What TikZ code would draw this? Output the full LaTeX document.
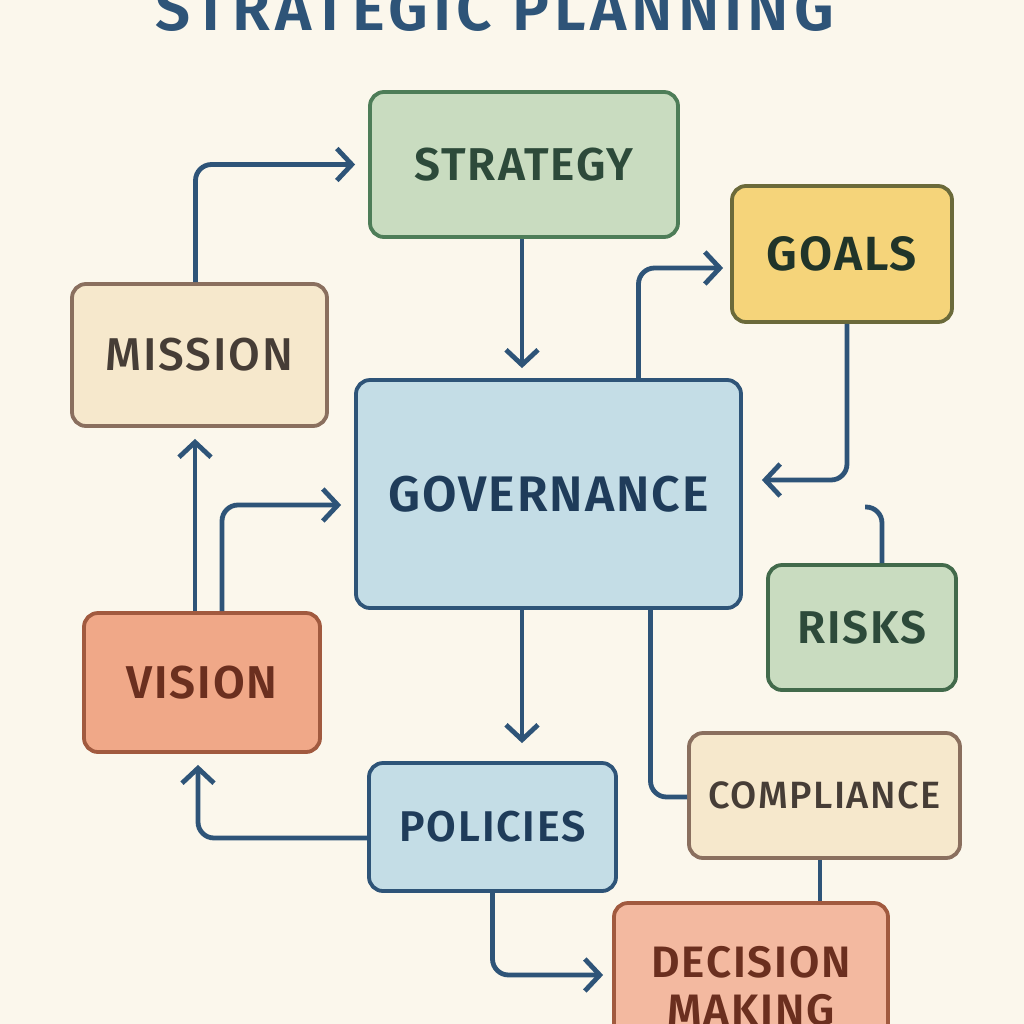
\documentclass[tikz,border=0pt]{standalone}
\usepackage{fontspec}
\setmainfont{Fira Sans}[BoldFont=* SemiBold]
\newfontfamily\mediumfont{Fira Sans Medium}[LetterSpace=4]
\usetikzlibrary{arrows.meta}

\definecolor{paper}{HTML}{FBF7EC}
\definecolor{linkblue}{HTML}{2E5478}
\definecolor{navy}{HTML}{1F3C5A}
\definecolor{greenfill}{HTML}{C9DCC0}
\definecolor{greenline}{HTML}{4E7D58}
\definecolor{greentext}{HTML}{2D4A3A}
\definecolor{goldfill}{HTML}{F5D47A}
\definecolor{goldline}{HTML}{6B6A3A}
\definecolor{creamfill}{HTML}{F6E8CC}
\definecolor{creamline}{HTML}{8A6F5E}
\definecolor{creamtext}{HTML}{463D36}
\definecolor{bluefill}{HTML}{C4DDE6}
\definecolor{salmonfill}{HTML}{F0A888}
\definecolor{salmonline}{HTML}{A15A3F}
\definecolor{salmontext}{HTML}{6B2F1F}

\newcommand{\boxfont}[1]{\fontsize{#1}{#1}\selectfont\bfseries\addfontfeatures{LetterSpace=4}}

\begin{document}
\begin{tikzpicture}[x=0.5pt,y=-0.5pt,
    box/.style={draw, rounded corners=7pt, line width=1.9pt, align=center, inner sep=0pt,
        font=\boxfont{23}},
    greenbox/.style={box, fill=greenfill, draw=greenline, text=greentext},
    goldbox/.style={box, fill=goldfill, draw=goldline, text=greentext!70!black},
    creambox/.style={box, fill=creamfill, draw=creamline, text=creamtext},
    bluebox/.style={box, fill=bluefill, draw=linkblue, text=navy},
    salmonbox/.style={box, fill=salmonfill, draw=salmonline, text=salmontext},
    link/.style={draw=linkblue, line width=2.4pt, rounded corners=8pt},
    flow/.style={link, -{Straight Barb[length=7.5pt,width=16pt]}},
    ]
    \clip (0,0) rectangle (1024,1024);
    \fill[paper] (0,0) rectangle (1024,1024);

    % title, cut by the top edge
    \node[anchor=base, text=linkblue, font=\fontsize{31}{34}\selectfont\bfseries\addfontfeatures{LetterSpace=8}] (title) at (495,30) {STRATEGIC PLANNING};

    % boxes
    \node[greenbox, minimum width=154pt, minimum height=72.5pt] (strategy) at (524,164.5) {STRATEGY};
    \node[goldbox, minimum width=110pt, minimum height=68pt, font=\boxfont{24}] (goals) at (842,254) {GOALS};
    \node[creambox, minimum width=127.5pt, minimum height=71pt, font=\fontsize{23}{26}\mediumfont] (mission) at (199.5,355) {MISSION};
    \node[bluebox, minimum width=192.5pt, minimum height=114pt, font=\boxfont{25}] (governance) at (548.5,494) {GOVERNANCE};
    \node[greenbox, draw=greenline!85!black, minimum width=94pt, minimum height=62.5pt] (risks) at (862,627.5) {RISKS};
    \node[salmonbox, minimum width=118pt, minimum height=69.5pt] (vision) at (202,682.5) {VISION};
    \node[creambox, minimum width=135.5pt, minimum height=62.5pt, font=\fontsize{19}{22}\mediumfont] (compliance) at (824.5,795.5) {COMPLIANCE};
    \node[bluebox, minimum width=123.5pt, minimum height=64pt, font=\boxfont{21.5}] (policies) at (492.5,827) {POLICIES};
    \node[salmonbox, fill=salmonfill!80!white, minimum width=137pt, minimum height=83pt, font=\fontsize{22}{24}\selectfont\bfseries\addfontfeatures{LetterSpace=4}] (decision) at (751,986) {DECISION\\MAKING};

    % connectors
    \draw[flow] ([xshift=-2pt]mission.north) |- ([xshift=-6.5pt]strategy.west);
    \draw[flow] ([xshift=-1pt]strategy.south) -- ([xshift=-1pt,yshift=5pt]strategy.south |- governance.north);
    \draw[flow] ([xshift=45pt]governance.north) |- ([xshift=-3.5pt,yshift=-7pt]goals.west);
    \draw[flow] ([xshift=2.5pt]goals.south) |- ([xshift=9.5pt,yshift=7pt]governance.east);
    \coordinate (riskend) at (865,507);
    \draw[link] ([xshift=10pt]risks.north) |- (riskend);
    \draw[flow] ([xshift=-3.5pt]vision.north) -- ([xshift=-3.5pt,yshift=-5.5pt]vision.north |- mission.south);
    \draw[flow] ([xshift=10pt]vision.north) |- ([xshift=-6.5pt,yshift=-5.5pt]governance.west);
    \draw[flow] ([xshift=-13.25pt]governance.south) -- ([xshift=-13.25pt,yshift=9pt]governance.south |- policies.north);
    \draw[link] ([xshift=51pt]governance.south) |- ([yshift=-0.75pt]compliance.west);
    \draw[flow] ([yshift=-5.5pt]policies.west) -| ([xshift=-2pt,yshift=-5.5pt]vision.south);
    \draw[flow] (policies.south) |- ([xshift=-4.5pt,yshift=5.5pt]decision.west);
    \draw[link] ([xshift=-2.25pt]compliance.south) -- ([xshift=-2.25pt]compliance.south |- decision.north);
\end{tikzpicture}
\end{document}
